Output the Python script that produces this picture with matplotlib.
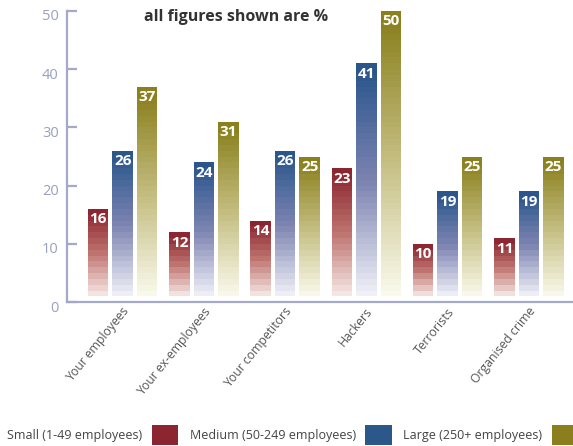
import numpy as np
import matplotlib
matplotlib.use("Agg")
import matplotlib.pyplot as plt
from matplotlib.patches import Patch
from matplotlib.transforms import ScaledTranslation

# ---- data -------------------------------------------------------------
categories = ["Your employees", "Your ex-employees", "Your competitors",
              "Hackers", "Terrorists", "Organised crime"]
series_names = ["Small (1-49 employees)", "Medium (50-249 employees)",
                "Large (250+ employees)"]
small = [16, 12, 14, 23, 10, 11]
medium = [26, 24, 26, 41, 19, 19]
large = [37, 31, 25, 50, 25, 25]
y_ticks = [0, 10, 20, 30, 40, 50]

# ---- style ------------------------------------------------------------
FONT = "Open Sans"
AXIS_COL = "#a3a9c7"
TICK_TXT = "#9aa0c0"
# colour stops for each series: (position from bar bottom, rgb)
gradients = [
    [(0.0, (247, 236, 233)), (0.5, (192, 118, 114)), (1.0, (139, 37, 47))],
    [(0.0, (243, 243, 249)), (0.5, (126, 133, 178)), (1.0, (43, 86, 140))],
    [(0.0, (250, 250, 238)), (0.5, (196, 189, 128)), (1.0, (138, 128, 30))],
]
solid = ["#8b2630", "#2b578a", "#8a7f1c"]

plt.rcParams["font.family"] = [FONT, "DejaVu Sans"]


def shade(stops, t):
    for (t0, c0), (t1, c1) in zip(stops[:-1], stops[1:]):
        if t <= t1:
            f = (t - t0) / (t1 - t0)
            return tuple((a + (b - a) * f) / 255 for a, b in zip(c0, c1))
    return tuple(v / 255 for v in stops[-1][1])


fig = plt.figure(figsize=(5.73, 4.46), dpi=100)
ax = fig.add_axes([67 / 573, 143.7 / 446, 506 / 573, 291.6 / 446])

x = np.arange(len(categories))
width = 0.252
offset = 0.3015
base = 1.0  # bars start one unit above the axis

for k, vals in enumerate([small, medium, large]):
    xs = x + (k - 1) * offset
    for xi, v in zip(xs, vals):
        n = int(round(v - base))
        edges = np.linspace(base, v, n + 1)
        for j in range(n):
            t = (edges[j] + edges[j + 1]) / 2
            frac = (t - base) / (v - base)
            frac = min(1.0, frac * 1.04)
            ax.bar(xi, edges[j + 1] - edges[j], width=width, bottom=edges[j],
                   color=shade(gradients[k], frac), linewidth=0,
                   clip_on=False)
        ax.annotate(str(v), (xi, v), xytext=(0, -2.5),
                    textcoords="offset points", ha="center", va="top",
                    color="white", fontweight="bold", fontsize=11)

ax.set_xlim(-0.6855, 5.542)
ax.set_ylim(0, 50)

for s in ["top", "right"]:
    ax.spines[s].set_visible(False)
for s in ["left", "bottom"]:
    ax.spines[s].set_color(AXIS_COL)
    ax.spines[s].set_linewidth(1.6)

ax.set_yticks(y_ticks)
ax.set_yticklabels([str(t) for t in y_ticks])
ax.tick_params(axis="y", direction="in", length=7.5, width=1.6,
               color=AXIS_COL, labelcolor=TICK_TXT, labelsize=10.5, pad=6)
for lab in ax.get_yticklabels():
    lab.set_transform(lab.get_transform()
                      + ScaledTranslation(0, -0.04, fig.dpi_scale_trans))

ax.set_xticks(x)
ax.set_xticklabels(categories, rotation=51, ha="right", va="center",
                   rotation_mode="anchor")
ax.tick_params(axis="x", length=0, pad=5, labelcolor="#555555",
               labelsize=8.8)
for lab in ax.get_xticklabels():
    lab.set_transform(lab.get_transform()
                      + ScaledTranslation(0.04, 0, fig.dpi_scale_trans))

fig.text(144 / 573, 1 - 17 / 446, "all figures shown are %",
         ha="left", va="center", fontsize=11.5, fontweight="bold",
         color="#333333")

handles = [Patch(facecolor=c, edgecolor="none") for c in solid]
fig.legend(handles, series_names, loc="center left",
           bbox_to_anchor=(7 / 573, 1 - 435 / 446), ncol=3,
           markerfirst=False, frameon=False, fontsize=9,
           handlelength=2.15, handleheight=2.0, handletextpad=0.75,
           columnspacing=0.9, borderpad=0, borderaxespad=0,
           labelcolor="#444444")

fig.savefig("out.png", dpi=100)
